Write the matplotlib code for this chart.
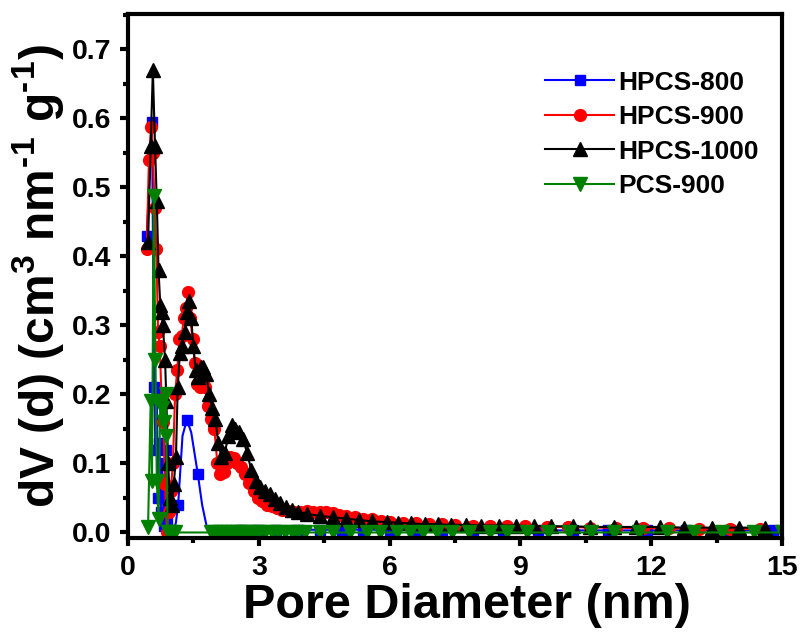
import matplotlib
matplotlib.use("Agg")
import matplotlib.pyplot as plt
from matplotlib.ticker import MultipleLocator

plt.rcParams['font.family'] = ['Liberation Sans', 'DejaVu Sans']
plt.rcParams['font.weight'] = 'bold'
plt.rcParams['mathtext.fontset'] = 'custom'
plt.rcParams['mathtext.rm'] = 'Liberation Sans:bold'
plt.rcParams['mathtext.bf'] = 'Liberation Sans:bold'
plt.rcParams['mathtext.default'] = 'rm'

# HPCS-800
d_800 = [0.43, 0.55, 0.60, 0.63, 0.66, 0.69, 0.72, 0.75, 0.78, 0.82, 0.86, 0.90, 0.95,
         1.00, 1.05, 1.10, 1.15, 1.20, 1.25, 1.35, 1.45, 1.60, 1.70, 1.80, 1.90,
         2.0, 2.6, 3.0, 3.4, 3.9, 4.4, 4.9, 5.4, 6.0, 6.6, 7.2, 7.9, 8.6, 9.4,
         10.2, 11.0, 11.9, 12.8, 13.8, 14.8]
v_800 = [0.43, 0.595, 0.21, 0.12, 0.20, 0.05, 0.13, 0.03, 0.10, 0.01, 0.12, 0.02, 0.0,
         0.0, 0.0, 0.015, 0.04, 0.09, 0.14, 0.163, 0.145, 0.085, 0.04, 0.01, 0.0,
         0.0, 0.004, 0.004, 0.004, 0.004, 0.004, 0.004, 0.004, 0.004, 0.004, 0.003, 0.003, 0.003, 0.003,
         0.003, 0.003, 0.003, 0.003, 0.003, 0.003]
mark_800 = [0, 1, 2, 3, 4, 5, 6, 7, 8, 9, 10, 11, 12, 16, 19, 21] + list(range(26, 45))

# HPCS-900
d_900 = [0.43, 0.48, 0.53, 0.57, 0.61, 0.65, 0.69, 0.73, 0.77, 0.81, 0.85, 0.89, 0.93, 0.98,
         1.03, 1.08, 1.13, 1.18, 1.23, 1.28, 1.33, 1.38, 1.43, 1.48, 1.53, 1.59, 1.65, 1.71,
         1.77, 1.84, 1.91, 1.98, 2.05, 2.12, 2.19, 2.27, 2.35, 2.43, 2.51, 2.60, 2.69, 2.78,
         2.88, 2.98, 3.08, 3.19, 3.30, 3.42, 3.54, 3.67, 3.80, 3.95, 4.1, 4.25, 4.4, 4.55,
         4.7, 4.85, 5.0, 5.2, 5.4, 5.6, 5.8, 6.0, 6.3, 6.6, 6.9, 7.2, 7.5, 7.9, 8.3, 8.7,
         9.1, 9.6, 10.1, 10.6, 11.2, 11.8, 12.4, 13.1, 13.8, 14.5]
v_900 = [0.41, 0.54, 0.588, 0.55, 0.47, 0.41, 0.29, 0.27, 0.19, 0.16, 0.07, 0.0, 0.03, 0.06,
         0.10, 0.20, 0.236, 0.28, 0.285, 0.31, 0.325, 0.348, 0.31, 0.28, 0.245, 0.215, 0.21, 0.215,
         0.21, 0.183, 0.165, 0.15, 0.10, 0.085, 0.088, 0.10, 0.11, 0.108, 0.10, 0.095, 0.085, 0.072,
         0.06, 0.05, 0.045, 0.04, 0.038, 0.035, 0.033, 0.031, 0.029, 0.03, 0.031, 0.03, 0.03, 0.029,
         0.028, 0.026, 0.024, 0.022, 0.02, 0.019, 0.017, 0.015, 0.014, 0.013, 0.012, 0.012, 0.011, 0.010, 0.010, 0.009,
         0.009, 0.008, 0.008, 0.007, 0.007, 0.006, 0.006, 0.005, 0.005, 0.005]

# HPCS-1000
d_1000 = [0.46, 0.52, 0.57, 0.62, 0.66, 0.70, 0.74, 0.77, 0.80, 0.85, 0.88, 0.92, 0.96, 1.00,
          1.05, 1.10, 1.14, 1.19, 1.24, 1.30, 1.35, 1.40, 1.45, 1.50, 1.55, 1.61, 1.67, 1.73,
          1.79, 1.86, 1.93, 2.00, 2.07, 2.14, 2.22, 2.30, 2.38, 2.46, 2.55, 2.64, 2.73, 2.83,
          2.93, 3.03, 3.14, 3.25, 3.37, 3.49, 3.62, 3.75, 3.90, 4.1, 4.4, 4.7, 5.0, 5.3,
          5.6, 5.95, 6.2, 6.5, 6.8, 7.1, 7.4, 7.75, 8.1, 8.5, 8.9, 9.3, 9.7, 10.2, 10.6,
          11.15, 11.65, 12.2, 12.75, 13.4, 14.0, 14.6]
v_1000 = [0.42, 0.56, 0.67, 0.56, 0.48, 0.38, 0.33, 0.32, 0.30, 0.25, 0.19, 0.10, 0.05, 0.04,
          0.07, 0.11, 0.21, 0.26, 0.27, 0.29, 0.32, 0.335, 0.31, 0.27, 0.235, 0.225, 0.24, 0.24,
          0.23, 0.20, 0.18, 0.165, 0.13, 0.11, 0.115, 0.14, 0.155, 0.15, 0.145, 0.135, 0.115, 0.09,
          0.075, 0.066, 0.06, 0.055, 0.048, 0.042, 0.037, 0.033, 0.030, 0.027, 0.024, 0.022, 0.020, 0.018,
          0.016, 0.015, 0.014, 0.013, 0.012, 0.012, 0.011, 0.011, 0.010, 0.010, 0.010, 0.009, 0.009, 0.009, 0.008,
          0.008, 0.008, 0.008, 0.007, 0.007, 0.007, 0.007]

# PCS-900
d_pcs = [0.46, 0.52, 0.55, 0.59, 0.63, 0.66, 0.70, 0.74, 0.78, 0.82, 0.86, 0.88, 0.91, 0.95,
         1.00, 1.08, 1.9, 2.0, 2.1, 2.2, 2.3, 2.4, 2.5, 2.6, 2.7, 2.8, 2.9, 3.0, 3.15, 3.3,
         3.45, 3.6, 3.75, 3.9, 4.05, 4.4, 4.7, 5.08, 5.47, 5.77, 6.16, 6.46, 6.76, 7.08, 7.44,
         7.83, 8.29, 8.7, 9.14, 9.62, 10.12, 10.62, 11.15, 11.72, 12.37, 12.98, 13.62, 14.36, 15.0]
v_pcs = [0.008, 0.19, 0.075, 0.487, 0.25, 0.075, 0.02, 0.19, 0.18, 0.16, 0.20, 0.14, 0.0, 0.0,
         0.0, 0.0, 0.0, 0.0, 0.0, 0.0, 0.0, 0.0, 0.0, 0.0, 0.0, 0.0, 0.0, 0.0, 0.0, 0.0,
         0.0, 0.0, 0.0, 0.0, 0.0, 0.0, 0.0, 0.0, 0.0, 0.0, 0.0, 0.0, 0.0, 0.0, 0.0,
         0.0, 0.0, 0.0, 0.0, 0.0, 0.0, 0.0, 0.0, 0.0, 0.0, 0.0, 0.0, 0.0, 0.0]

fig = plt.figure(figsize=(8.03, 6.41), dpi=100)
ax = fig.add_axes([0.1594, 0.1607, 0.8146, 0.8175])

ax.plot(d_800, v_800, color='#0000ff', lw=1.5, marker='s', ms=7, markevery=mark_800, label='HPCS-800')
ax.plot(d_900, v_900, color='#ff0000', lw=1.5, marker='o', ms=8.5, label='HPCS-900')
ax.plot(d_1000, v_1000, color='#000000', lw=1.5, marker='^', ms=9.5, label='HPCS-1000')
ax.plot(d_pcs, v_pcs, color='#008000', lw=1.5, marker='v', ms=9.5, label='PCS-900')

ax.set_xlim(0, 15)
ax.set_ylim(-0.008, 0.751)
ax.xaxis.set_major_locator(MultipleLocator(3))
ax.xaxis.set_minor_locator(MultipleLocator(1.5))
ax.yaxis.set_major_locator(MultipleLocator(0.1))
ax.yaxis.set_minor_locator(MultipleLocator(0.05))
ax.yaxis.set_major_formatter(matplotlib.ticker.FormatStrFormatter('%.1f'))

for s in ax.spines.values():
    s.set_linewidth(3)
ax.tick_params(which='major', direction='out', length=6, width=3, labelsize=20.5, pad=6)
ax.tick_params(which='minor', direction='out', length=3.5, width=3)
ax.tick_params(top=False, right=False)

ax.set_xlabel('Pore Diameter (nm)', fontsize=35, fontweight='bold')
ax.xaxis.set_label_coords(0.518, -0.085)
ax.set_ylabel('dV (d) (cm$^{3}$ nm$^{\u2010}$$^{1}$ g$^{\u2010}$$^{1}$)', fontsize=34.5,
              fontweight='bold', labelpad=4)

leg = ax.legend(loc='upper left', bbox_to_anchor=(0.679, 0.89), bbox_transform=fig.transFigure,
                frameon=False, fontsize=19, handlelength=2.6, handletextpad=0.15,
                labelspacing=0.4, borderpad=0, borderaxespad=0)

fig.savefig('out.png', dpi=100)
